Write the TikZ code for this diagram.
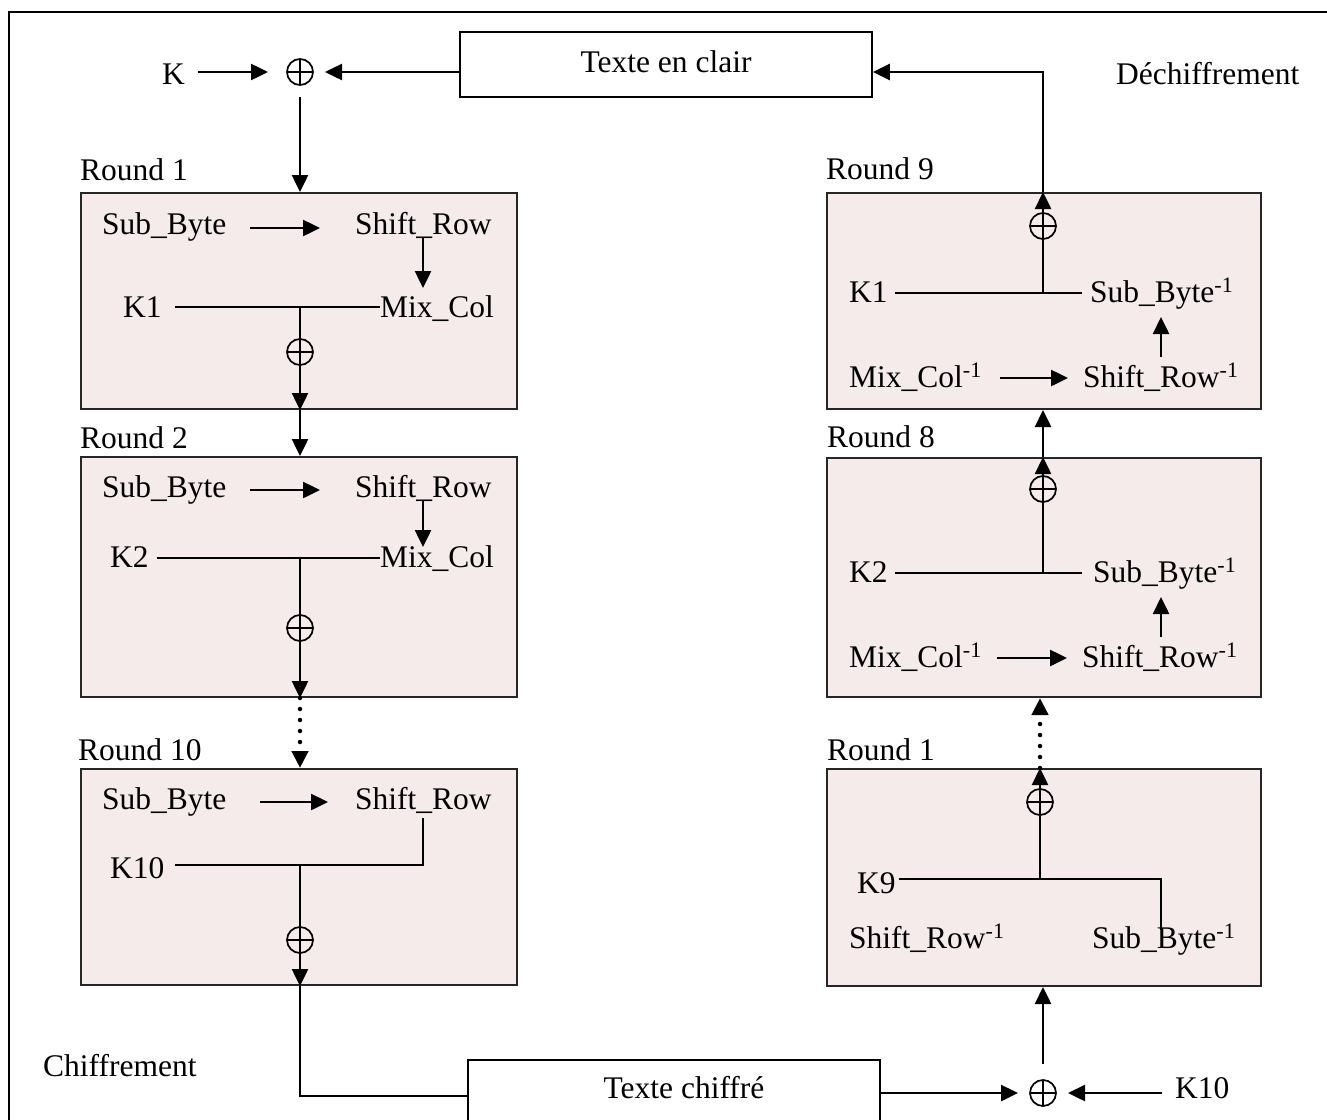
\documentclass[tikz,border=0pt]{standalone}
\usepackage{fontspec}
\setmainfont{Liberation Serif}
\usetikzlibrary{arrows.meta}
\definecolor{boxfill}{HTML}{F5EBEB}
\begin{document}
\begin{tikzpicture}[x=1pt,y=-1pt,
 lbl/.style={inner sep=0pt, anchor=base west, font=\fontsize{31.5}{36}\selectfont},
 ctr/.style={lbl, anchor=base},
 roundbox/.style={draw=black!85, line width=2pt, fill=boxfill, inner sep=0pt, minimum width=436pt},
 plainbox/.style={draw, line width=1.8pt, fill=white, inner sep=0pt, minimum width=412pt},
 xorop/.style={circle, draw, line width=1.7pt, minimum size=26pt, inner sep=0pt,
   path picture={\draw[line width=1.7pt] (path picture bounding box.north) -- (path picture bounding box.south)
   (path picture bounding box.west) -- (path picture bounding box.east);}},
 arr/.style={line width=2.5pt, -{Triangle[length=17pt,width=16pt]}},
 dotarr/.style={line width=4.5pt, line cap=round, dash pattern=on 0pt off 11pt, -{Triangle[length=17pt,width=16pt]}},
 thinl/.style={line width=1.7pt},
 medl/.style={line width=2.3pt},
]
\useasboundingbox (0,0) rectangle (1327,1119);
% outer frame
\draw[line width=1.6pt] (9,1140) -- (9,12) -- (1345,12);

% ---------- top: plaintext ----------
\node[plainbox, minimum height=65pt] (clair) at (666,64.5) {};
\node[ctr] (clairtxt) at (666,72) {Texte en clair};
\node[lbl] (K) at (162,84) {K};
\node[xorop] (xk) at (300,72) {};
\coordinate (ka) at (198,72); \coordinate (kb) at (268,72);
\draw[arr] (ka) -- (kb);
\coordinate (xkr) at (325,72);
\draw[arr] (clair.west |- xk) -- (xkr);
\node[lbl] (dechif) at (1116,84) {Déchiffrement};

% ---------- left: encryption ----------
\node[roundbox, minimum height=216pt] (L1) at (299,301) {};
\node[roundbox, minimum height=240pt] (L2) at (299,577) {};
\node[roundbox, minimum height=216pt] (L3) at (299,877) {};

\coordinate (xkd) at (300,97);
\draw[arr] (xkd) -- (xkd |- L1.north);

% Round 1
\node[lbl] (r1l) at (80,180) {Round 1};
\node[lbl] (sb1) at (102,234) {Sub\_Byte};
\node[lbl] (sr1) at (355,234) {Shift\_Row};
\node[lbl] (k1) at (123,317) {K1};
\node[lbl] (mc1) at (380,317) {Mix\_Col};
\coordinate (a1) at (250,228); \coordinate (b1) at (320,228);
\draw[arr] (a1) -- (b1);
\coordinate (c1) at (423,237); \coordinate (d1) at (423,288);
\draw[arr] (c1) -- (d1);
\coordinate (k1e) at (175,307); \coordinate (mc1w) at (380,307); \coordinate (j1) at (300,307);
\draw[thinl] (k1e) -- (mc1w);
\node[xorop] (x1) at (300,352) {};
\draw[arr] (j1) -- (j1 |- L1.south);
\draw[arr] (j1 |- L1.south) -- (j1 |- L2.north);

% Round 2
\node[lbl] (r2l) at (80,448) {Round 2};
\node[lbl] (sb2) at (102,497) {Sub\_Byte};
\node[lbl] (sr2) at (355,497) {Shift\_Row};
\node[lbl] (k2) at (110,567) {K2};
\node[lbl] (mc2) at (380,567) {Mix\_Col};
\coordinate (a2) at (250,490); \coordinate (b2) at (320,490);
\draw[arr] (a2) -- (b2);
\coordinate (c2) at (423,500); \coordinate (d2) at (423,547);
\draw[arr] (c2) -- (d2);
\coordinate (k2e) at (157,558); \coordinate (mc2w) at (380,558); \coordinate (j2) at (300,558);
\draw[thinl] (k2e) -- (mc2w);
\node[xorop] (x2) at (300,628) {};
\draw[arr] (j2) -- (j2 |- L2.south);
\draw[dotarr] (j2 |- L2.south) -- (j2 |- L3.north);

% Round 10
\node[lbl] (r10l) at (78,760) {Round 10};
\node[lbl] (sb3) at (102,809) {Sub\_Byte};
\node[lbl] (sr3) at (355,809) {Shift\_Row};
\node[lbl] (k3) at (110,878) {K10};
\coordinate (a3) at (260,802); \coordinate (b3) at (328,802);
\draw[arr] (a3) -- (b3);
\coordinate (c3) at (423,818); \coordinate (k3e) at (175,865); \coordinate (j3) at (300,865);
\draw[thinl] (c3) |- (k3e);
\node[xorop] (x3) at (300,940) {};
\draw[arr] (j3) -- (j3 |- L3.south);

% ---------- bottom: ciphertext ----------
\node[plainbox, minimum height=100pt] (chif) at (674,1110) {};
\node[ctr] (chiftxt) at (684,1098) {Texte chiffré};
\node[lbl] (chiffrement) at (43,1076) {Chiffrement};
\coordinate (cb) at (300,1096);
\draw[medl] (j3 |- L3.south) -- (cb) -- (cb -| chif.west);

\node[xorop] (xb) at (1043,1093) {};
\coordinate (xbl) at (1018,1093);
\draw[arr] (chif.east |- xb) -- (xbl);
\node[lbl] (k10b) at (1175,1098) {K10};
\coordinate (kba) at (1162,1093); \coordinate (kbb) at (1068,1093);
\draw[arr] (kba) -- (kbb);

% ---------- right: decryption ----------
\node[roundbox, minimum width=434pt, minimum height=217pt] (R1) at (1044,877.5) {};
\node[roundbox, minimum width=434pt, minimum height=239pt] (R8) at (1044,577.5) {};
\node[roundbox, minimum width=434pt, minimum height=216pt] (R9) at (1044,301) {};

\coordinate (xbu) at (1043,1064);
\draw[arr] (xbu) -- (xbu |- R1.south);

% Round 1 (right)
\node[lbl] (rr1l) at (827,760) {Round 1};
\node[lbl] (k9) at (857,893) {K9};
\node[lbl] (srr1) at (849,948) {Shift\_Row\textsuperscript{-1}};
\node[lbl] (sbr1) at (1092,948) {Sub\_Byte\textsuperscript{-1}};
\coordinate (k9e) at (899,879); \coordinate (sbr1t) at (1161,930); \coordinate (jr1) at (1040,879);
\draw[thinl] (k9e) -| (sbr1t);
\node[xorop] (xr1) at (1040,802) {};
\draw[arr] (jr1) -- (jr1 |- R1.north);
\draw[dotarr] (jr1 |- R1.north) -- (jr1 |- R8.south);

% Round 8
\node[lbl] (rr8l) at (827,447) {Round 8};
\node[lbl] (k2r) at (849,582) {K2};
\node[lbl] (sbr8) at (1093,582) {Sub\_Byte\textsuperscript{-1}};
\node[lbl] (mcr8) at (849,667) {Mix\_Col\textsuperscript{-1}};
\node[lbl] (srr8) at (1082,667) {Shift\_Row\textsuperscript{-1}};
\coordinate (k2re) at (895,573); \coordinate (sbr8w) at (1082,573); \coordinate (jr8) at (1043,573);
\draw[thinl] (k2re) -- (sbr8w);
\coordinate (u8a) at (1161,637); \coordinate (u8b) at (1161,597);
\draw[arr] (u8a) -- (u8b);
\coordinate (m8a) at (997,658); \coordinate (m8b) at (1067,658);
\draw[arr] (m8a) -- (m8b);
\node[xorop] (xr8) at (1043,489) {};
\draw[arr] (jr8) -- (jr8 |- R8.north);
\draw[arr] (jr8 |- R8.north) -- (jr8 |- R9.south);

% Round 9
\node[lbl] (rr9l) at (826,179) {Round 9};
\node[lbl] (k1r) at (849,302) {K1};
\node[lbl] (sbr9) at (1090,302) {Sub\_Byte\textsuperscript{-1}};
\node[lbl] (mcr9) at (849,387) {Mix\_Col\textsuperscript{-1}};
\node[lbl] (srr9) at (1083,387) {Shift\_Row\textsuperscript{-1}};
\coordinate (k1re) at (895,293); \coordinate (sbr9w) at (1082,293); \coordinate (jr9) at (1043,293);
\draw[thinl] (k1re) -- (sbr9w);
\coordinate (u9a) at (1161,357); \coordinate (u9b) at (1161,317);
\draw[arr] (u9a) -- (u9b);
\coordinate (m9a) at (1000,378); \coordinate (m9b) at (1068,378);
\draw[arr] (m9a) -- (m9b);
\node[xorop] (xr9) at (1043,226) {};
\draw[arr] (jr9) -- (jr9 |- R9.north);
\coordinate (topr) at (1043,72);
\draw[arr] (jr9 |- R9.north) -- (topr) -- (clair.east |- topr);
\end{tikzpicture}
\end{document}
